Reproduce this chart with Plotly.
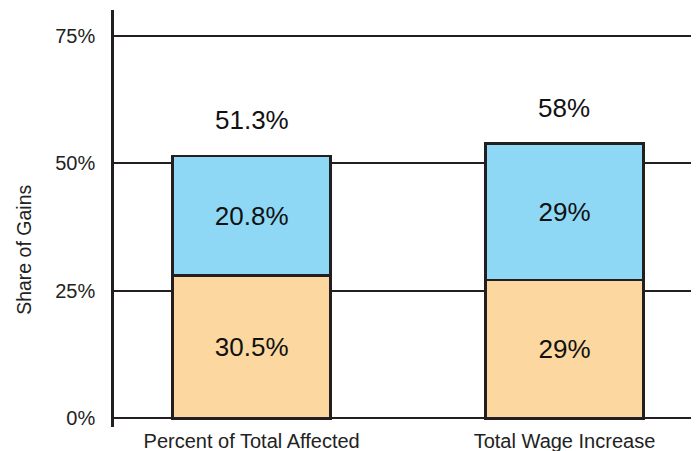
import plotly.graph_objects as go

categories = ["Percent of Total Affected", "Total Wage Increase"]
bottom_values = [28.0, 27.1]
top_values = [23.4, 26.7]
bottom_labels = ["30.5%", "29%"]
top_labels = ["20.8%", "29%"]
total_labels = ["51.3%", "58%"]
y_ticks = [0, 25, 50, 75]
y_tick_text = ["0%", "25%", "50%", "75%"]

FONT = "Liberation Sans, Arial, sans-serif"
INK = "#231F20"

fig = go.Figure()
fig.add_trace(go.Bar(
    x=categories, y=bottom_values, text=bottom_labels,
    marker=dict(color="#FCD8A0", line=dict(color=INK, width=2.5)),
    width=0.505, textposition="inside", insidetextanchor="middle",
    textfont=dict(size=26, color="#111111", family=FONT),
    hoverinfo="skip", showlegend=False,
))
fig.add_trace(go.Bar(
    x=categories, y=top_values, text=top_labels,
    marker=dict(color="#8ED8F6", line=dict(color=INK, width=2.5)),
    width=0.505, textposition="inside", insidetextanchor="middle",
    textfont=dict(size=26, color="#111111", family=FONT),
    hoverinfo="skip", showlegend=False,
))

for cat, b, t, lab in zip(categories, bottom_values, top_values, total_labels):
    fig.add_annotation(x=cat, y=b + t, text=lab, showarrow=False,
                       yanchor="middle", yshift=36,
                       font=dict(size=26, color="#111111", family=FONT))

fig.add_annotation(xref="paper", yref="paper", x=-0.152, y=0.4245,
                   text="Share of Gains", textangle=-90, showarrow=False,
                   xanchor="center", yanchor="middle",
                   font=dict(size=19.5, color="#222222", family=FONT))

fig.update_layout(
    width=699, height=443,
    margin=dict(l=106, r=0, t=2, b=24),
    barmode="stack",
    paper_bgcolor="white", plot_bgcolor="white",
    font=dict(family=FONT, color="#222222"),
    uniformtext=dict(minsize=10, mode="show"),
)
fig.update_xaxes(
    range=[-0.44, 1.4556], showgrid=False, zeroline=False, showline=False,
    ticks="", tickfont=dict(size=20, color="#222222", family=FONT),
)
fig.update_yaxes(
    range=[-1.7, 80], tickvals=y_ticks, ticktext=y_tick_text,
    showgrid=True, gridcolor=INK, gridwidth=2, zeroline=False,
    showline=True, linecolor=INK, linewidth=2.5, ticks="",
    ticklabelstandoff=12,
    tickfont=dict(size=20, color="#222222", family=FONT),
)

fig.write_html("out.html")
